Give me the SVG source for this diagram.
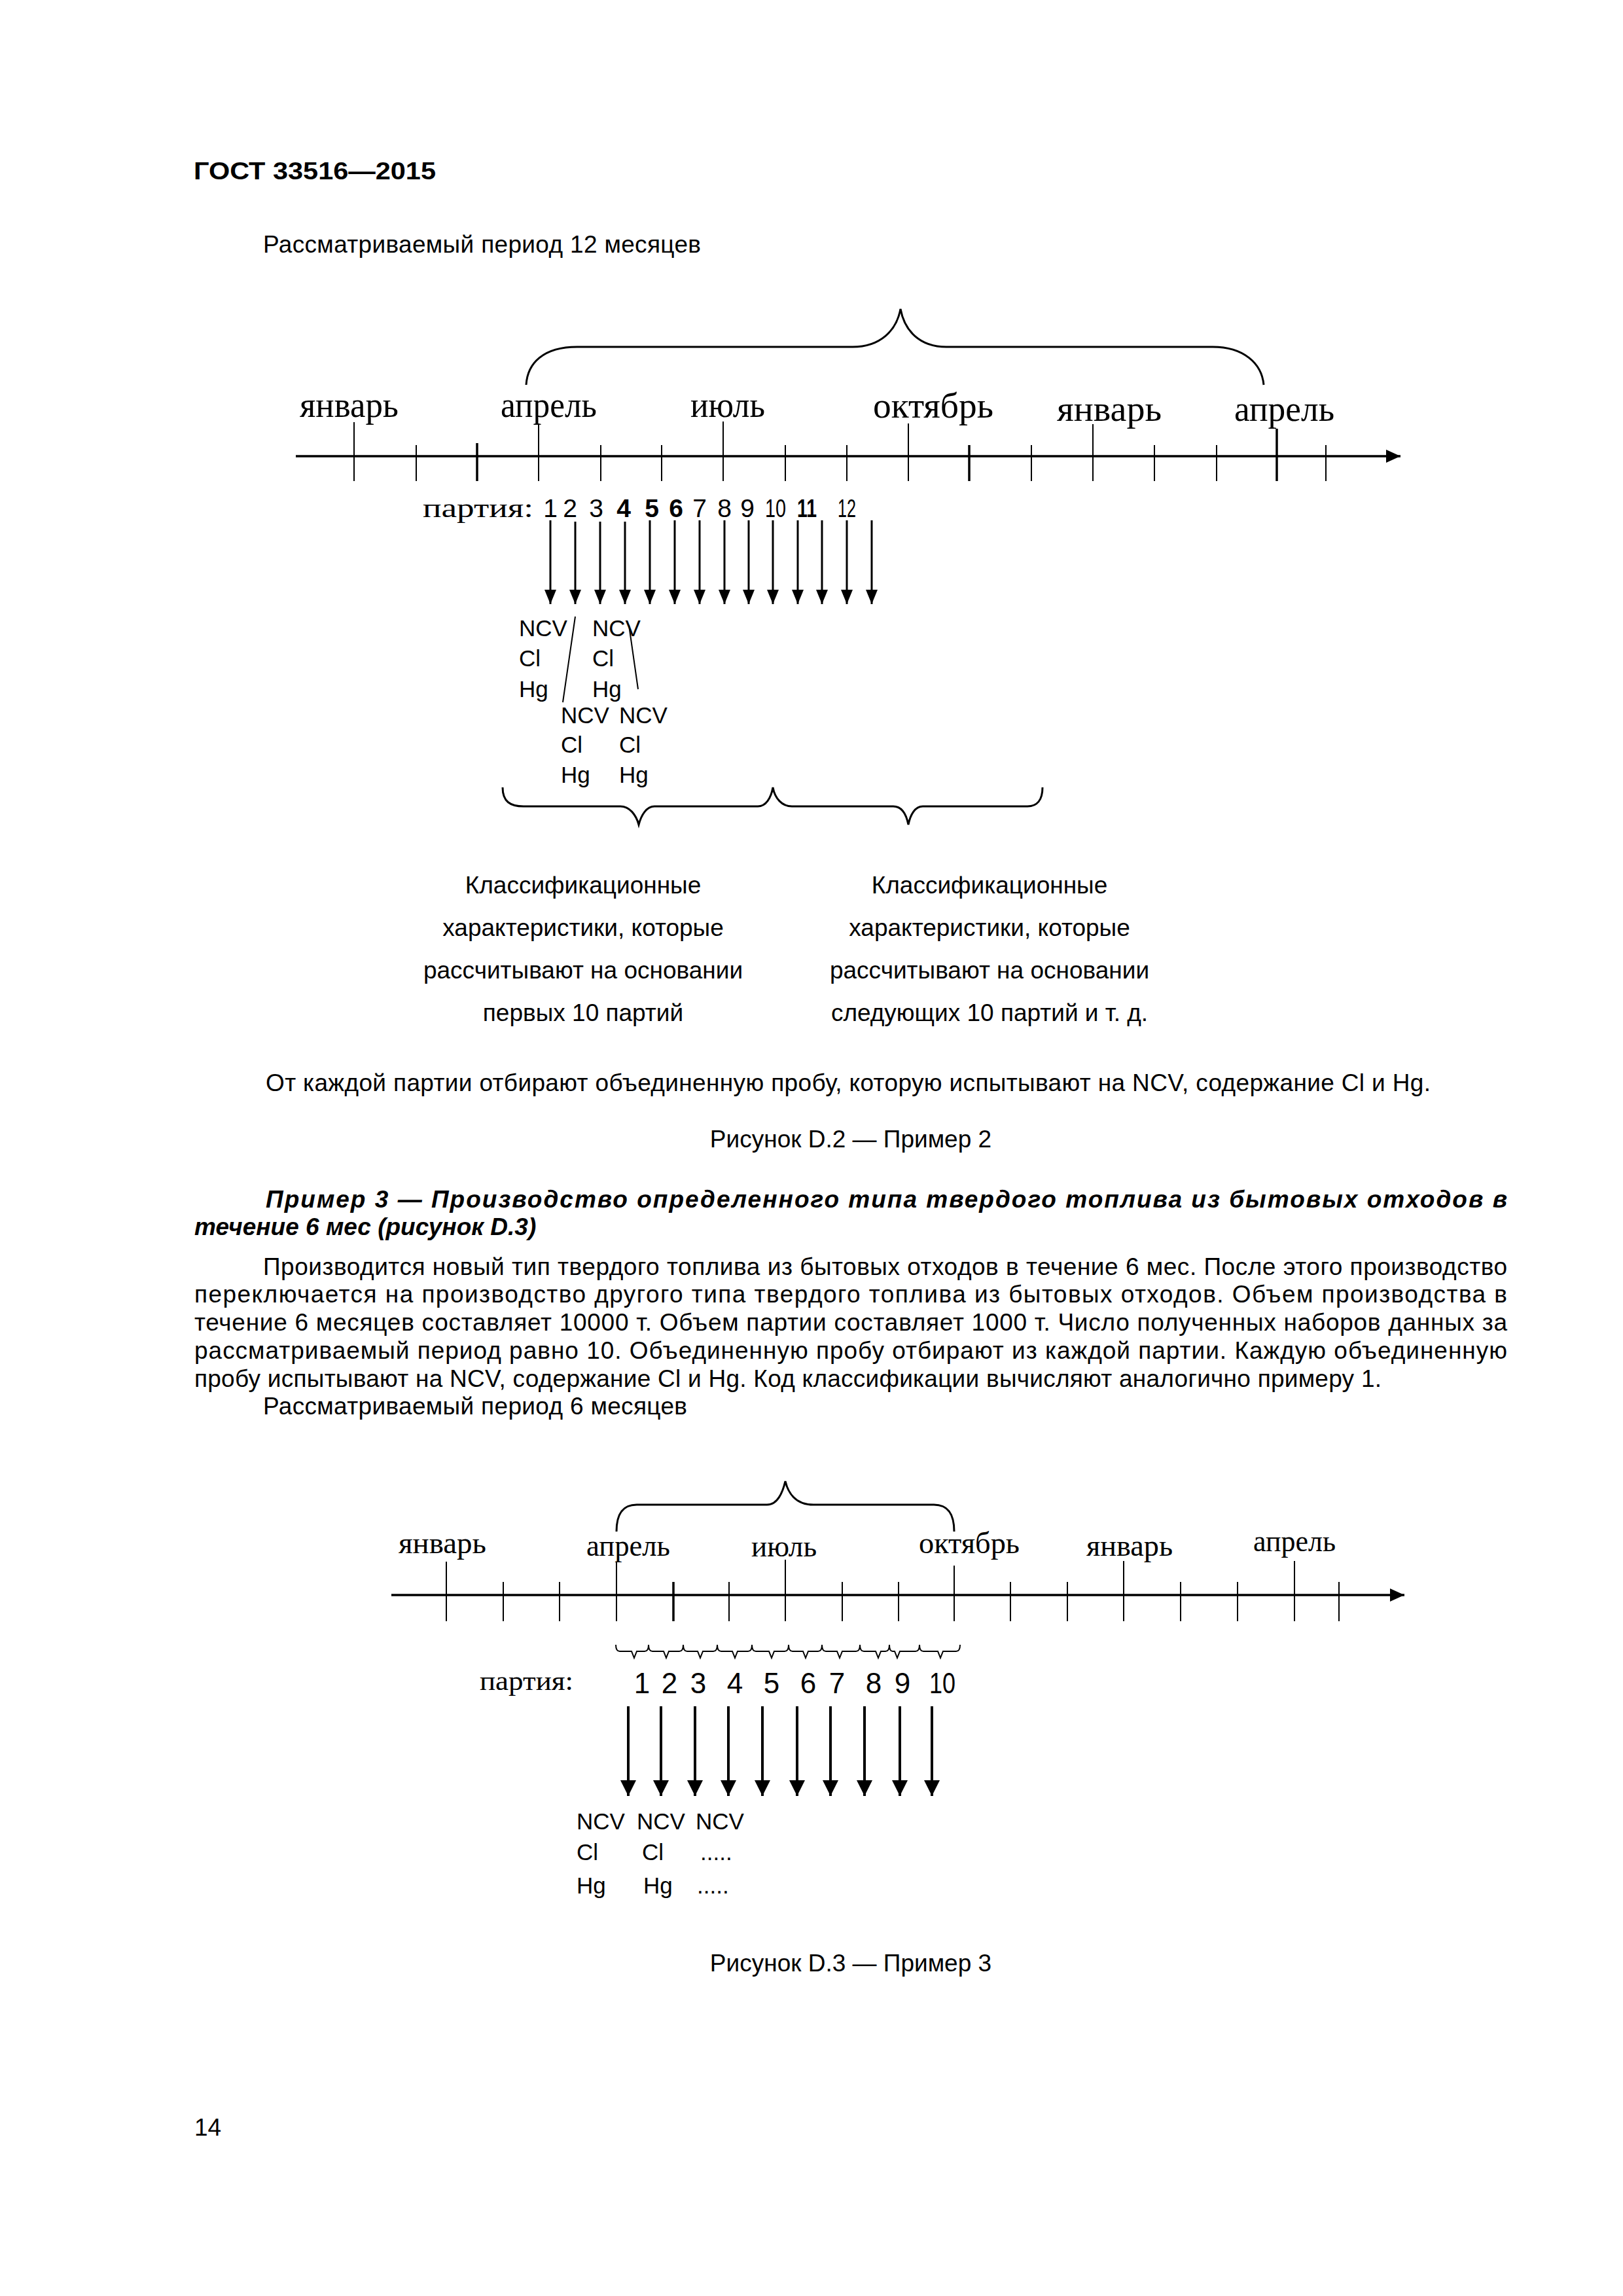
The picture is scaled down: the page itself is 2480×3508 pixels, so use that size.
<svg xmlns="http://www.w3.org/2000/svg" width="2480" height="3508" viewBox="0 0 2480 3508">
<defs>
<style>
.t{font-family:"Liberation Sans",Arial,sans-serif;font-size:37px;fill:#000}
.b{font-weight:bold}
.bi{font-weight:bold;font-style:italic}
.s{font-family:"Liberation Serif","Times New Roman",serif;fill:#000}
.m2{font-size:54px}
.m3{font-size:47px}
.n2{font-family:"Liberation Sans",Arial,sans-serif;font-size:39px;text-anchor:middle}
.n3{font-family:"Liberation Sans",Arial,sans-serif;font-size:44px;text-anchor:middle}
.e{font-family:"Liberation Sans",Arial,sans-serif;font-size:35px}
.c{text-anchor:middle}
.ax{stroke:#000;stroke-width:3.5;fill:none}
.tk{stroke:#000;stroke-width:2;fill:none}
.tkb{stroke:#000;stroke-width:3.5;fill:none}
.br{stroke:#000;stroke-width:3;fill:none}
.ar2{stroke:#000;stroke-width:3;fill:none;marker-end:url(#ah2)}
.ar3{stroke:#000;stroke-width:4;fill:none;marker-end:url(#ah3)}
.ln{stroke:#000;stroke-width:2;fill:none}
</style>
<marker id="ah2" viewBox="0 0 22 18" refX="22" refY="9" markerWidth="22" markerHeight="18" markerUnits="userSpaceOnUse" orient="auto"><path d="M0,0 L22,9 L0,18 z" fill="#000"/></marker>
<marker id="ah3" viewBox="0 0 24 24" refX="24" refY="12" markerWidth="24" markerHeight="24" markerUnits="userSpaceOnUse" orient="auto"><path d="M0,0 L24,12 L0,24 z" fill="#000"/></marker>
<marker id="axh" viewBox="0 0 22 20" refX="22" refY="10" markerWidth="22" markerHeight="20" markerUnits="userSpaceOnUse" orient="auto"><path d="M0,0 L22,10 L0,20 z" fill="#000"/></marker>
</defs>
<rect width="2480" height="3508" fill="#fff"/>

<g id="page-text">
<text class="t b" x="296" y="274" font-size="41" textLength="370" lengthAdjust="spacingAndGlyphs">ГОСТ 33516—2015</text>
<text class="t" x="402" y="386" textLength="669" lengthAdjust="spacing">Рассматриваемый период 12 месяцев</text>
<text class="t c" x="1296" y="1667" textLength="1780" lengthAdjust="spacing">От каждой партии отбирают объединенную пробу, которую испытывают на NCV, содержание Cl и Hg.</text>
<text class="t c" x="1300" y="1753">Рисунок D.2 — Пример 2</text>
<text class="t bi" x="406" y="1845" textLength="1897" lengthAdjust="spacing">Пример 3 — Производство определенного типа твердого топлива из бытовых отходов в</text>
<text class="t bi" x="297" y="1887">течение 6 мес (рисунок D.3)</text>
<text class="t" x="402" y="1948" textLength="1901" lengthAdjust="spacing">Производится новый тип твердого топлива из бытовых отходов в течение 6 мес. После этого производство</text>
<text class="t" x="297" y="1990" textLength="2006" lengthAdjust="spacing">переключается на производство другого типа твердого топлива из бытовых отходов. Объем производства в</text>
<text class="t" x="297" y="2033" textLength="2006" lengthAdjust="spacing">течение 6 месяцев составляет 10000 т. Объем партии составляет 1000 т. Число полученных наборов данных за</text>
<text class="t" x="297" y="2076" textLength="2006" lengthAdjust="spacing">рассматриваемый период равно 10. Объединенную пробу отбирают из каждой партии. Каждую объединенную</text>
<text class="t" x="297" y="2119" textLength="1814" lengthAdjust="spacing">пробу испытывают на NCV, содержание Cl и Hg. Код классификации вычисляют аналогично примеру 1.</text>
<text class="t" x="402" y="2161" textLength="648" lengthAdjust="spacing">Рассматриваемый период 6 месяцев</text>
<text class="t c" x="1300" y="3012">Рисунок D.3 — Пример 3</text>
<text class="t" x="297" y="3263" font-size="41">14</text>
</g>

<!-- Figure D.2 -->
<g id="d2-axis">
<line class="ax" x1="452" y1="697" x2="2140" y2="697" marker-end="url(#axh)"/>
<path class="tk" d="M541,645V735 M636,680V735 M823,647V735 M918,680V735 M1011,680V735 M1105,644V735 M1200,680V735 M1294,680V735 M1388,647V735 M1576,680V735 M1670,648V735 M1764,680V735 M1859,680V735 M2026,680V735"/>
<path class="tkb" d="M729,677V735 M1481,680V735 M1951,655V735"/>
</g>
<g id="d2-months">
<text class="s m2" x="458" y="637" textLength="151" lengthAdjust="spacingAndGlyphs">январь</text>
<text class="s m2" x="765" y="637" textLength="147" lengthAdjust="spacingAndGlyphs">апрель</text>
<text class="s m2" x="1055" y="637" textLength="114" lengthAdjust="spacingAndGlyphs">июль</text>
<text class="s m2" x="1334" y="638" textLength="184" lengthAdjust="spacingAndGlyphs">октябрь</text>
<text class="s m2" x="1615" y="643" textLength="160" lengthAdjust="spacingAndGlyphs">январь</text>
<text class="s m2" x="1886" y="643" textLength="153" lengthAdjust="spacingAndGlyphs">апрель</text>
</g>
<g id="d2-brace-top">
<path class="br" d="M804,588 C806,555 830,530 882,530 L1303,530 C1345,530 1370,505 1376,472 C1382,505 1405,530 1446,530 L1853,530 C1900,530 1928,555 1931,588"/>
</g>
<g id="d2-batches">
<text class="s" x="646" y="790" font-size="40" textLength="169" lengthAdjust="spacingAndGlyphs">партия:</text>
<text class="n2" x="841" y="790">1</text>
<text class="n2" x="871" y="790">2</text>
<text class="n2" x="911" y="790">3</text>
<text class="n2 b" x="953" y="790">4</text>
<text class="n2 b" x="996" y="790">5</text>
<text class="n2 b" x="1033" y="790">6</text>
<text class="n2" x="1069" y="790">7</text>
<text class="n2" x="1107" y="790">8</text>
<text class="n2" x="1142" y="790">9</text>
<text class="n2" x="1185" y="790" textLength="32" lengthAdjust="spacingAndGlyphs">10</text>
<text class="n2 b" x="1233" y="790" textLength="30" lengthAdjust="spacingAndGlyphs">11</text>
<text class="n2" x="1294" y="790" textLength="28" lengthAdjust="spacingAndGlyphs">12</text>
</g>
<g id="connectors">
<g id="d2-arrows">
<line class="ar2" x1="841" y1="795" x2="841" y2="923"/>
<line class="ar2" x1="879" y1="797" x2="879" y2="923"/>
<line class="ar2" x1="917" y1="797" x2="917" y2="923"/>
<line class="ar2" x1="955" y1="797" x2="955" y2="923"/>
<line class="ar2" x1="993" y1="795" x2="993" y2="923"/>
<line class="ar2" x1="1031" y1="795" x2="1031" y2="923" stroke-width="4"/>
<line class="ar2" x1="1069" y1="795" x2="1069" y2="923"/>
<line class="ar2" x1="1107" y1="795" x2="1107" y2="923"/>
<line class="ar2" x1="1144" y1="795" x2="1144" y2="923"/>
<line class="ar2" x1="1181" y1="795" x2="1181" y2="923"/>
<line class="ar2" x1="1219" y1="795" x2="1219" y2="923" stroke-width="4"/>
<line class="ar2" x1="1256" y1="795" x2="1256" y2="923"/>
<line class="ar2" x1="1294" y1="795" x2="1294" y2="923"/>
<line class="ar2" x1="1332" y1="795" x2="1332" y2="923"/>
</g>
<line class="ln" x1="879" y1="942" x2="860" y2="1073"/>
<line class="ln" x1="961" y1="955" x2="975" y2="1053"/>
<g id="d3-arrows">
<line class="ar3" x1="960" y1="2607" x2="960" y2="2744"/>
<line class="ar3" x1="1010" y1="2607" x2="1010" y2="2744"/>
<line class="ar3" x1="1062" y1="2607" x2="1062" y2="2744"/>
<line class="ar3" x1="1113" y1="2607" x2="1113" y2="2744"/>
<line class="ar3" x1="1165" y1="2607" x2="1165" y2="2744"/>
<line class="ar3" x1="1218" y1="2607" x2="1218" y2="2744"/>
<line class="ar3" x1="1269" y1="2607" x2="1269" y2="2744"/>
<line class="ar3" x1="1321" y1="2607" x2="1321" y2="2744"/>
<line class="ar3" x1="1375" y1="2607" x2="1375" y2="2744"/>
<line class="ar3" x1="1424" y1="2607" x2="1424" y2="2744"/>
</g>
</g>
<g id="d2-results">
<text class="e" x="793" y="972">NCV</text><text class="e" x="793" y="1018">Cl</text><text class="e" x="793" y="1065">Hg</text>
<text class="e" x="905" y="972">NCV</text><text class="e" x="905" y="1018">Cl</text><text class="e" x="905" y="1065">Hg</text>
<text class="e" x="857" y="1105">NCV</text><text class="e" x="857" y="1150">Cl</text><text class="e" x="857" y="1196">Hg</text>
<text class="e" x="946" y="1105">NCV</text><text class="e" x="946" y="1150">Cl</text><text class="e" x="946" y="1196">Hg</text>
</g>
<g id="d2-brace-bottom">
<path class="br" d="M768,1203 C768,1225 780,1232 800,1232 L948,1232 C962,1232 972,1245 976,1260 C980,1245 988,1232 1000,1232 L1158,1232 C1170,1232 1178,1220 1181,1203 C1184,1220 1195,1232 1210,1232 L1365,1232 C1378,1232 1385,1245 1388,1260 C1391,1245 1398,1232 1410,1232 L1570,1232 C1585,1232 1593,1222 1593,1203"/>
</g>
<g id="d2-note-left">
<text class="t c" x="891" y="1365">Классификационные</text>
<text class="t c" x="891" y="1430">характеристики, которые</text>
<text class="t c" x="891" y="1495">рассчитывают на основании</text>
<text class="t c" x="891" y="1560">первых 10 партий</text>
</g>
<g id="d2-note-right">
<text class="t c" x="1512" y="1365">Классификационные</text>
<text class="t c" x="1512" y="1430">характеристики, которые</text>
<text class="t c" x="1512" y="1495">рассчитывают на основании</text>
<text class="t c" x="1512" y="1560">следующих 10 партий и т. д.</text>
</g>

<!-- Figure D.3 -->
<g id="d3-axis">
<line class="ax" x1="598" y1="2437" x2="2146" y2="2437" marker-end="url(#axh)"/>
<path class="tk" d="M682,2386V2477 M769,2417V2477 M855,2417V2477 M942,2387V2477 M1114,2417V2477 M1200,2383V2477 M1287,2417V2477 M1373,2417V2477 M1458,2392V2477 M1544,2417V2477 M1631,2417V2477 M1717,2385V2477 M1804,2417V2477 M1891,2417V2477 M1978,2385V2477 M2046,2417V2477"/>
<path class="tkb" d="M1029,2417V2477" stroke-width="3"/>
</g>
<g id="d3-months">
<text class="s m3" x="609" y="2373" textLength="134" lengthAdjust="spacingAndGlyphs">январь</text>
<text class="s m3" x="896" y="2377" textLength="128" lengthAdjust="spacingAndGlyphs">апрель</text>
<text class="s m3" x="1148" y="2378" textLength="100" lengthAdjust="spacingAndGlyphs">июль</text>
<text class="s m3" x="1404" y="2373" textLength="154" lengthAdjust="spacingAndGlyphs">октябрь</text>
<text class="s m3" x="1660" y="2377" textLength="132" lengthAdjust="spacingAndGlyphs">январь</text>
<text class="s m3" x="1915" y="2370" textLength="126" lengthAdjust="spacingAndGlyphs">апрель</text>
</g>
<g id="d3-brace-top">
<path class="br" stroke-width="2.5" d="M942,2340 C942,2315 950,2299 973,2299 L1172,2299 C1188,2299 1196,2280 1200,2263 C1204,2280 1215,2299 1243,2299 L1427,2299 C1450,2299 1458,2315 1458,2340"/>
</g>
<g id="d3-small-braces">
<path class="ln" d="M941,2513 Q941,2523 947,2523 L965,2523 L969,2533 L973,2523 L985,2523 Q991,2523 991,2513 Q991,2523 997,2523 L1014,2523 L1018,2533 L1022,2523 L1038,2523 Q1044,2523 1044,2513 Q1044,2523 1050,2523 L1066,2523 L1070,2533 L1074,2523 L1090,2523 Q1096,2523 1096,2513 Q1096,2523 1102,2523 L1119,2523 L1123,2533 L1127,2523 L1143,2523 Q1149,2523 1149,2513 Q1149,2523 1155,2523 L1175,2523 L1179,2533 L1183,2523 L1199,2523 Q1205,2523 1205,2513 Q1205,2523 1211,2523 L1227,2523 L1231,2533 L1235,2523 L1250,2523 Q1256,2523 1256,2513 Q1256,2523 1262,2523 L1279,2523 L1283,2533 L1287,2523 L1308,2523 Q1314,2523 1314,2513 Q1314,2523 1320,2523 L1338,2523 L1342,2533 L1346,2523 L1353,2523 Q1359,2523 1359,2513 Q1359,2523 1364,2523 L1367,2523 L1371,2533 L1375,2523 L1399,2523 Q1405,2523 1405,2513 Q1405,2523 1411,2523 L1433,2523 L1437,2533 L1441,2523 L1461,2523 Q1467,2523 1467,2513"/>
</g>
<g id="d3-batches">
<text class="s" x="733" y="2582" font-size="42" textLength="143" lengthAdjust="spacingAndGlyphs">партия:</text>
<text class="n3" x="981" y="2587">1</text>
<text class="n3" x="1023" y="2587">2</text>
<text class="n3" x="1067" y="2587">3</text>
<text class="n3" x="1123" y="2587">4</text>
<text class="n3" x="1179" y="2587">5</text>
<text class="n3" x="1235" y="2587">6</text>
<text class="n3" x="1279" y="2587">7</text>
<text class="n3" x="1335" y="2587">8</text>
<text class="n3" x="1379" y="2587">9</text>
<text class="n3" x="1440" y="2587" textLength="40" lengthAdjust="spacingAndGlyphs">10</text>
</g>
<g id="d3-results">
<text class="e" x="881" y="2795">NCV</text><text class="e" x="881" y="2842">Cl</text><text class="e" x="881" y="2893">Hg</text>
<text class="e" x="973" y="2795">NCV</text><text class="e" x="981" y="2842">Cl</text><text class="e" x="983" y="2893">Hg</text>
<text class="e" x="1063" y="2795">NCV</text><text class="e" x="1070" y="2842">.....</text><text class="e" x="1065" y="2893">.....</text>
</g>
</svg>
